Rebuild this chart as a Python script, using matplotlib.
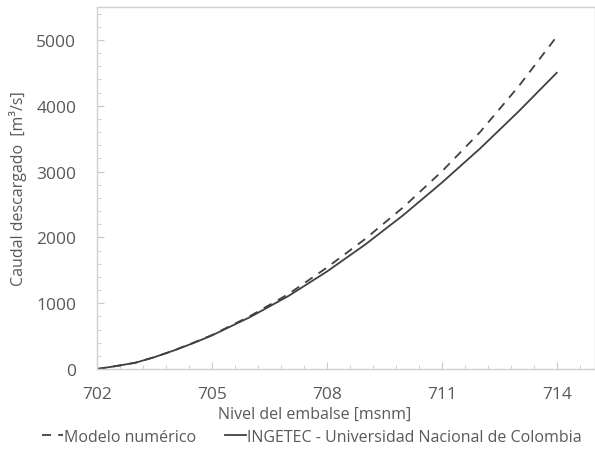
import matplotlib
matplotlib.use("Agg")
import matplotlib.pyplot as plt
from matplotlib.ticker import MultipleLocator

plt.rcParams['font.family'] = ['Open Sans', 'DejaVu Sans']

# water level (msnm) and discharge (m3/s)
nivel = [702, 702.5, 703, 703.5, 704, 704.5, 705, 706, 707, 708, 709, 710, 711, 712, 713, 714]
ingetec = [0, 45, 95, 180, 280, 390, 510, 790, 1110, 1480, 1890, 2340, 2830, 3350, 3910, 4500]
modelo = [0, 45, 95, 180, 280, 395, 515, 805, 1140, 1540, 1975, 2460, 3000, 3600, 4290, 5050]

gray = '#595959'
line_col = '#404040'

fig = plt.figure(figsize=(5.95, 4.52), dpi=100)
ax = fig.add_axes([97/595, 1-370/452, 1-97/595, 362/452])

ax.plot(nivel, modelo, color=line_col, lw=1.3, dashes=(5, 4), label='Modelo numérico')
ax.plot(nivel, ingetec, color=line_col, lw=1.3, label='INGETEC - Universidad Nacional de Colombia')

ax.set_xlim(702, 715)
ax.set_ylim(0, 5500)
ax.xaxis.set_major_locator(MultipleLocator(3))
ax.xaxis.set_minor_locator(MultipleLocator(0.6))
ax.yaxis.set_major_locator(MultipleLocator(1000))
ax.yaxis.set_minor_locator(MultipleLocator(200))
ax.tick_params(which='both', direction='in', color='#c8c8c8', labelcolor=gray, labelsize=12.5)
ax.tick_params(which='major', length=5)
ax.tick_params(axis='x', which='major', pad=12)
ax.tick_params(axis='y', which='major', pad=15)
ax.tick_params(which='minor', length=3)
ax.set_xticks([702, 705, 708, 711, 714])

for s in ax.spines.values():
    s.set_color('#d0d0d0')
    s.set_linewidth(1.0)

ax.set_xlabel('Nivel del embalse [msnm]', color=gray, fontsize=11.5)
ax.xaxis.set_label_coords((315 - 97) / 498, -37 / 362)
ax.set_ylabel('Caudal descargado  [m³/s]', color=gray, fontsize=11.5)
ax.yaxis.set_label_coords(-70 / 498, 0.5)

fig.legend(loc='center', bbox_to_anchor=(312 / 595, 1 - 438 / 452), ncol=2, frameon=False,
           fontsize=11.5, labelcolor=gray, handlelength=1.3, handletextpad=0.1,
           columnspacing=1.8)

fig.savefig('out.png', dpi=100)
